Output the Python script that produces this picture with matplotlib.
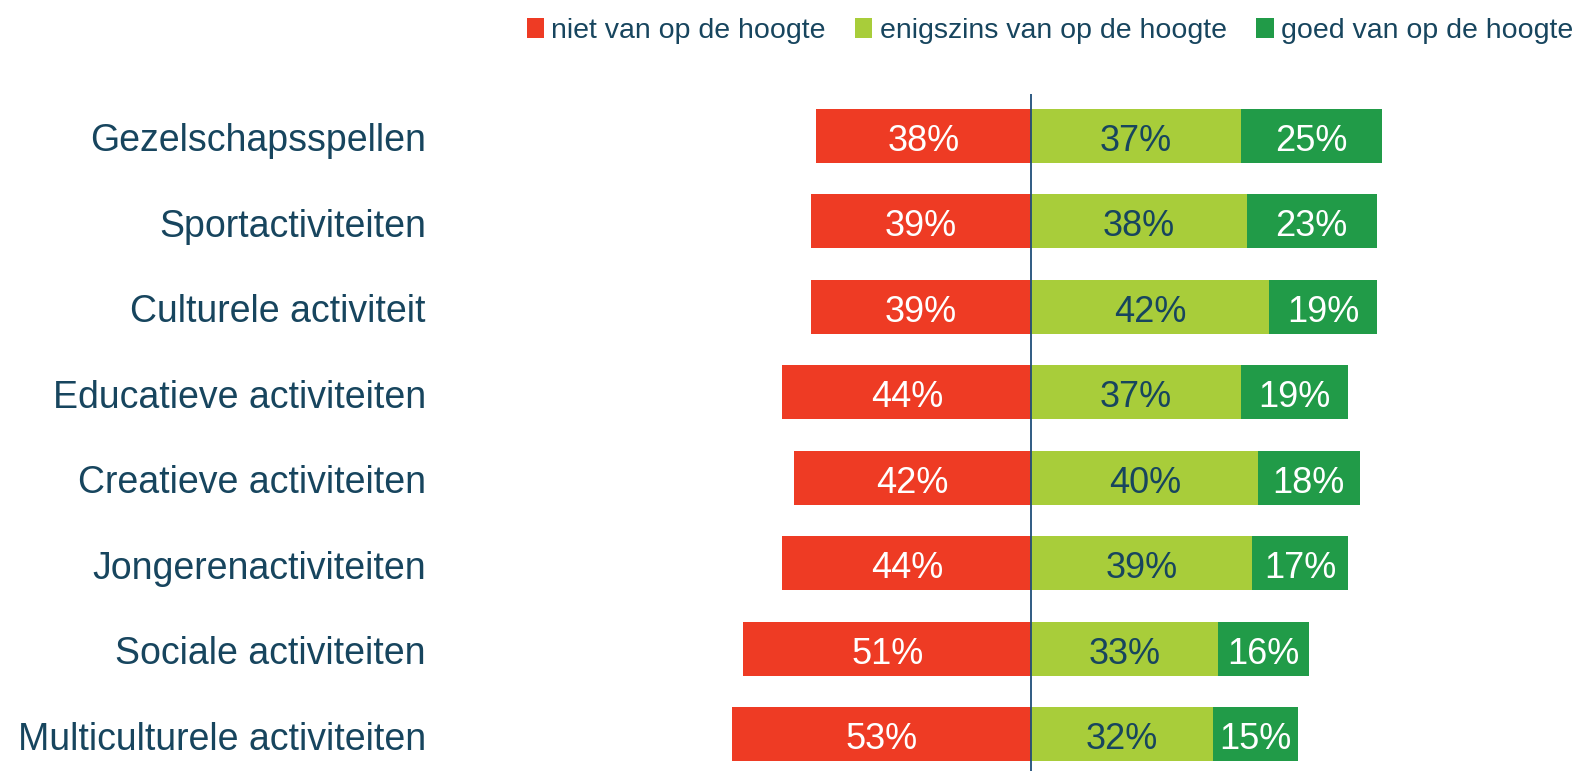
import numpy as np
import matplotlib
matplotlib.use("Agg")
import matplotlib.pyplot as plt

plt.rcParams['font.family'] = ['Liberation Sans', 'DejaVu Sans']

categories = ["Gezelschapsspellen", "Sportactiviteiten", "Culturele activiteit",
              "Educatieve activiteiten", "Creatieve activiteiten", "Jongerenactiviteiten",
              "Sociale activiteiten", "Multiculturele activiteiten"]
niet = [38, 39, 39, 44, 42, 44, 51, 53]
enigszins = [37, 38, 42, 37, 40, 39, 33, 32]
goed = [25, 23, 19, 19, 18, 17, 16, 15]
series_names = ["niet van op de hoogte", "enigszins van op de hoogte", "goed van op de hoogte"]

red = "#EE3B24"
lime = "#A8CD3A"
green = "#219B48"
teal = "#17455E"

fig = plt.figure(figsize=(15.78, 7.71), dpi=100)
# full-width axes, centre line at ~1031px, 1% ~ 5.66px
ax = fig.add_axes([0, 0, 1, 1 - 94 / 771])
y = np.arange(len(categories))
niet_a = np.array(niet)
en_a = np.array(enigszins)
goed_a = np.array(goed)

b1 = ax.barh(y, -niet_a, height=0.63, color=red, label=series_names[0])
b2 = ax.barh(y, en_a, height=0.63, color=lime, label=series_names[1])
b3 = ax.barh(y, goed_a, left=en_a, height=0.63, color=green, label=series_names[2])

labels = []
labels += ax.bar_label(b1, labels=[f"{v}%" for v in niet], label_type='center', color='white', fontsize=26)
labels += ax.bar_label(b2, labels=[f"{v}%" for v in enigszins], label_type='center', color=teal, fontsize=26)
labels += ax.bar_label(b3, labels=[f"{v}%" for v in goed], label_type='center', color='white', fontsize=26)
for t in labels:
    t.xyann = (0, -4)  # nudge down a bit, text sits slightly low in the original

for yi, c in zip(y, categories):
    ax.annotate(c, (-107.0, yi), xytext=(0, -4), textcoords='offset points',
                ha='right', va='center', fontsize=27, color=teal)

ax.axvline(0, color="#1F4E79", lw=1.3)

ax.set_xlim(-1031.5 / 5.66, (1578 - 1031.5) / 5.66)
ax.set_ylim(7.43, -0.49)
ax.axis('off')

fig.legend(handles=[b1, b2, b3], loc='center right', bbox_to_anchor=(1.004, 1 - 31 / 771),
           ncol=3, frameon=False, fontsize=20.5, labelcolor=teal,
           handlelength=0.6, handleheight=0.7, handletextpad=0.25, columnspacing=1.05,
           borderaxespad=0)

fig.savefig("out.png", dpi=100)
